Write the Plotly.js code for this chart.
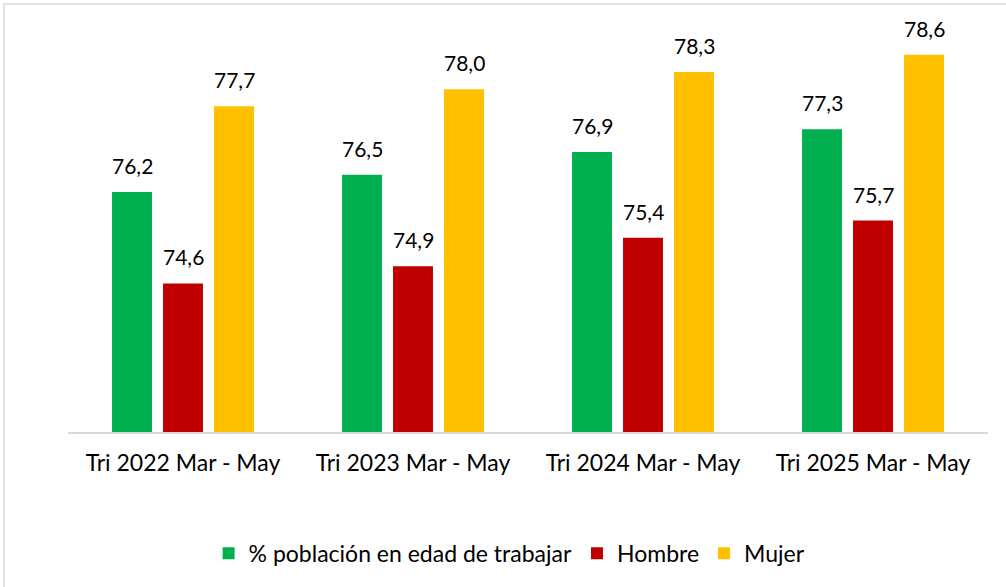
<!DOCTYPE html>
<html><head><meta charset="utf-8">
<script src="https://cdn.plot.ly/plotly-3.0.1.min.js"></script>
<style>html,body{margin:0;padding:0;background:#fff;}#chart{width:1006px;height:587px;}</style>
</head><body><div id="chart"></div>
<script>
const categories = ["Tri 2022 Mar - May", "Tri 2023 Mar - May", "Tri 2024 Mar - May", "Tri 2025 Mar - May"];
const seriesNames = ["% población en edad de trabajar", "Hombre", "Mujer"];
const total = [76.2, 76.5, 76.9, 77.3];
const hombre = [74.6, 74.9, 75.4, 75.7];
const mujer = [77.7, 78.0, 78.3, 78.6];
const colors = ["#00B050", "#C00000", "#FFC000"];
const FONT = "Lato, 'Open Sans', sans-serif";
const fmt = v => v.toFixed(1).replace('.', ',');
const allSeries = [total, hombre, mujer];
const traces = allSeries.map((vals, i) => ({
  type: 'bar', name: seriesNames[i], x: categories, y: vals,
  marker: {color: colors[i]},
  hoverinfo: 'skip'
}));
const groupShift = [-51, 0, 51];
const annotations = [];
allSeries.forEach((vals, i) => {
  vals.forEach((v, j) => {
    annotations.push({x: categories[j], y: v, xref: 'x', yref: 'y', text: fmt(v),
      showarrow: false, xanchor: 'center', yanchor: 'bottom', xshift: groupShift[i], yshift: 12,
      font: {family: FONT, size: 21, color: '#000'}});
  });
});
const layout = {
  width: 1006, height: 587,
  margin: {l: 68, r: 18, t: 32, b: 155},
  paper_bgcolor: '#fff', plot_bgcolor: '#fff',
  barmode: 'group', bargap: 0.335, bargroupgap: 0.216,
  font: {family: FONT, color: '#000'},
  xaxis: {showline: true, linecolor: '#d9d9d9', linewidth: 2, ticks: '', showgrid: false,
          tickfont: {family: FONT, size: 23, color: '#000'}, ticklabelstandoff: 9, fixedrange: true},
  yaxis: {range: [72, 79], visible: false, showgrid: false, zeroline: false, fixedrange: true},
  showlegend: true,
  legend: {orientation: 'h', x: 0.48, xanchor: 'center', y: -0.303, yanchor: 'middle',
           font: {family: FONT, size: 23, color: '#000'}, itemwidth: 30, traceorder: 'normal'},
  annotations: annotations,
  shapes: [{type: 'rect', xref: 'paper', yref: 'paper', x0: -0.0696, x1: 1.03, y0: -0.50, y1: 1.07,
            line: {color: '#d9d9d9', width: 1.5}, fillcolor: 'rgba(0,0,0,0)', layer: 'below'}]
};
Plotly.newPlot('chart', traces, layout, {displayModeBar: false, staticPlot: true});
</script></body></html>
